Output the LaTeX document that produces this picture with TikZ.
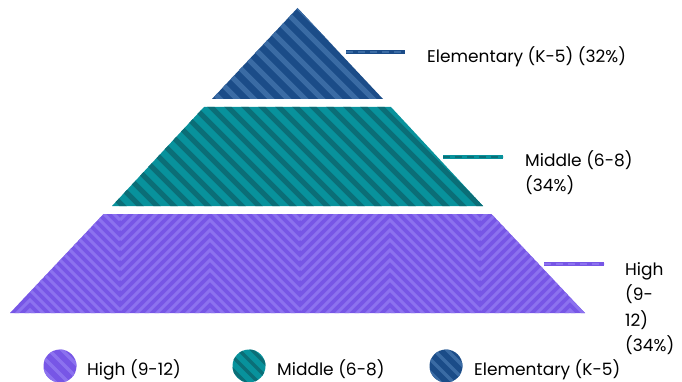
\documentclass[tikz,border=0pt]{standalone}
\usepackage{fontspec}
\setmainfont{Poppins}
\usetikzlibrary{calc}

\definecolor{elemblue}{HTML}{1B4C88}
\definecolor{elemlight}{HTML}{3A6BA4}
\definecolor{midteal}{HTML}{08929C}
\definecolor{middark}{HTML}{0B6E77}
\definecolor{highpurple}{HTML}{7756E6}
\definecolor{highlight}{HTML}{8C72EF}

\tikzset{
  lbl/.style = {font=\fontsize{17}{25.5}\selectfont, inner sep=0pt, anchor=base west, align=left},
  stripe/.style = {line width=5pt},
  leader/.style = {line width=4pt},
  leaderdash/.style = {line width=2pt, dash pattern=on 7pt off 5pt},
}

\begin{document}
\begin{tikzpicture}[x=1pt, y=-1pt]
  \useasboundingbox (0,0) rectangle (682,382);

  % elementary tier
  \begin{scope}
    \clip (297.5,8) -- (383,99) -- (212,99) -- cycle;
    \fill [elemblue] (200,0) rectangle (400,110);
    \foreach \i in {-100,-83,...,400}
      \draw [stripe, elemlight] (\i,0) -- ++(110,110);
  \end{scope}

  % middle tier
  \begin{scope}
    \clip (204,107) -- (391,107) -- (483,206) -- (112,206) -- cycle;
    \fill [midteal] (100,100) rectangle (500,210);
    \foreach \i in {0,17,...,500}
      \draw [stripe, middark] (\i,100) -- ++(110,110);
  \end{scope}

  % high tier
  \begin{scope}
    \clip (103.5,214) -- (491.5,214) -- (585,313) -- (10,313) -- cycle;
    \fill [highpurple] (0,210) rectangle (600,320);
    \foreach \y in {200,210,...,420}
      \foreach \x in {-60,120,...,600}
        \draw [line width=3pt, highlight] (\x,\y) -- ++(90,-90) -- ++(90,90);
  \end{scope}

  % leaders and labels
  \coordinate (elemA) at (346,52);
  \coordinate (elemB) at (405,52);
  \draw [leader, elemblue] (elemA) -- (elemB);
  \draw [leaderdash, elemlight] (elemA) -- (elemB);
  \node [lbl] (elemlbl) at (427,62.5) {Elementary (K-5) (32\%)};

  \coordinate (midA) at (443,157);
  \coordinate (midB) at (503,157);
  \draw [leader, midteal] (midA) -- (midB);
  \draw [leaderdash, middark] (midA) -- (midB);
  \node [lbl] (midlbl) at (525,192) {Middle (6-8)\\(34\%)};

  \coordinate (highA) at (544,264);
  \coordinate (highB) at (604,264);
  \draw [leader, highpurple] (highA) -- (highB);
  \draw [leaderdash, highlight] (highA) -- (highB);
  \node [lbl] (highlbl) at (625,351.5) {High\\(9-\\12)\\(34\%)};

  % legend
  \begin{scope}
    \clip (60,366) circle (16.5);
    \fill [highpurple] (40,345) rectangle (80,385);
    \foreach \i in {0,13,...,80}
      \draw [line width=3.5pt, highlight] (\i,340) -- ++(50,50);
  \end{scope}
  \node [lbl] (highkey) at (87,375) {High (9-12)};

  \begin{scope}
    \clip (249,366) circle (16.5);
    \fill [midteal] (230,345) rectangle (270,385);
    \foreach \i in {190,203,...,270}
      \draw [line width=3.5pt, middark] (\i,340) -- ++(50,50);
  \end{scope}
  \node [lbl] (midkey) at (277,375) {Middle (6-8)};

  \begin{scope}
    \clip (446,366) circle (16.5);
    \fill [elemblue] (425,345) rectangle (470,385);
    \foreach \i in {385,398,...,470}
      \draw [line width=3.5pt, elemlight] (\i,340) -- ++(50,50);
  \end{scope}
  \node [lbl] (elemkey) at (474,375) {Elementary (K-5)};
\end{tikzpicture}
\end{document}
